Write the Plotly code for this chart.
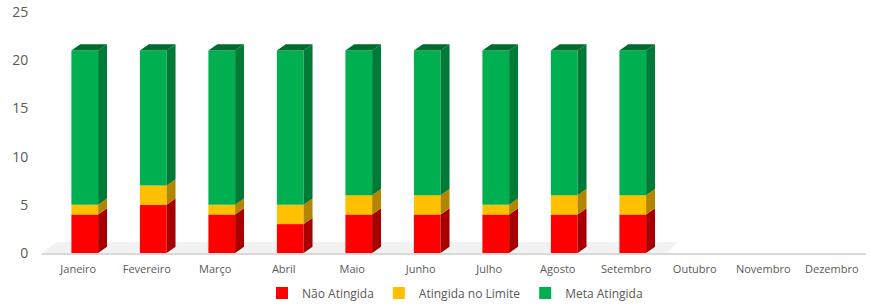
import plotly.graph_objects as go

months = ["Janeiro", "Fevereiro", "Março", "Abril", "Maio", "Junho", "Julho",
          "Agosto", "Setembro", "Outubro", "Novembro", "Dezembro"]
nao_atingida = [4, 5, 4, 3, 4, 4, 4, 4, 4]
atingida_limite = [1, 2, 1, 2, 2, 2, 1, 2, 2]
meta_atingida = [16, 14, 16, 16, 15, 15, 16, 15, 15]
y_ticks = [0, 5, 10, 15, 20, 25]

names = ["Não Atingida", "Atingida no Limite", "Meta Atingida"]
front = ["#FF0000", "#FFC000", "#00B050"]
side = ["#A80000", "#B38600", "#007A37"]
top_col = "#006B2E"

series = [nao_atingida, atingida_limite, meta_atingida]
n = len(nao_atingida)
xs = list(range(n))

OFF = -0.1      # front face left offset
W = 0.39        # front face width
DX = 0.13       # depth in x (category units)
DY = 0.65       # depth in y (value units)

fig = go.Figure()

# floor shadow
fig.add_shape(type="path",
              path=f"M {-0.55},0 L {-0.3},{DY+0.5} L {n - 1 + 0.75},{DY+0.5} L {n - 1 + 0.6},0 Z",
              fillcolor="rgba(0,0,0,0.05)", line_width=0, layer="below")

bases = [0] * n
for s, vals in enumerate(series):
    fig.add_trace(go.Bar(x=xs, y=vals, base=bases[:], name=names[s],
                         marker=dict(color=front[s], line_width=0),
                         width=W, offset=OFF, hoverinfo="skip"))
    px, py = [], []
    for i, v in enumerate(vals):
        b = bases[i]
        t = b + v
        x0 = i + OFF + W
        px += [x0, x0 + DX, x0 + DX, x0, x0, None]
        py += [b, b + DY, t + DY, t, b, None]
    fig.add_trace(go.Scatter(x=px, y=py, fill="toself", fillcolor=side[s],
                             mode="lines", line=dict(width=0, color=side[s]),
                             showlegend=False, hoverinfo="skip"))
    bases = [bases[i] + vals[i] for i in range(n)]

# top faces
tx, ty = [], []
for i in range(n):
    t = bases[i]
    x0 = i + OFF
    tx += [x0, x0 + DX, x0 + W + DX, x0 + W, x0, None]
    ty += [t, t + DY, t + DY, t, t, None]
fig.add_trace(go.Scatter(x=tx, y=ty, fill="toself", fillcolor=top_col,
                         mode="lines", line=dict(width=0, color=top_col),
                         showlegend=False, hoverinfo="skip"))

fig.update_layout(
    width=871, height=305,
    margin=dict(l=44, r=5, t=12, b=52, autoexpand=False),
    barmode="overlay",
    plot_bgcolor="white", paper_bgcolor="white",
    font=dict(family="Open Sans, Liberation Sans, sans-serif", color="#595959", size=11),
    showlegend=True,
    legend=dict(orientation="h", x=0.5, xanchor="center", y=-0.166, yanchor="middle",
                font=dict(size=12, color="#595959"), traceorder="normal"),
    xaxis=dict(range=[-0.5, 11.5], tickmode="array", tickvals=list(range(len(months))),
               ticktext=months, showgrid=False, zeroline=False, showline=False,
               ticks="outside", ticklen=6, tickcolor="rgba(0,0,0,0)", automargin=False,
               tickfont=dict(size=11, color="#595959")),
    yaxis=dict(range=[0, 25], tickmode="array", tickvals=y_ticks, showgrid=False,
               zeroline=False, showline=False, ticks="outside", ticklen=12, automargin=False,
               tickcolor="rgba(0,0,0,0)", tickfont=dict(size=14, color="#595959")),
)
fig.add_shape(type="line", xref="paper", yref="paper", x0=-0.003, x1=1.0, y0=-0.004, y1=-0.004,
              line=dict(color="#D9D9D9", width=2))

fig.write_html("out.html", config={"displayModeBar": False},
               post_script="document.body.style.margin='0';document.body.style.overflow='hidden';")
